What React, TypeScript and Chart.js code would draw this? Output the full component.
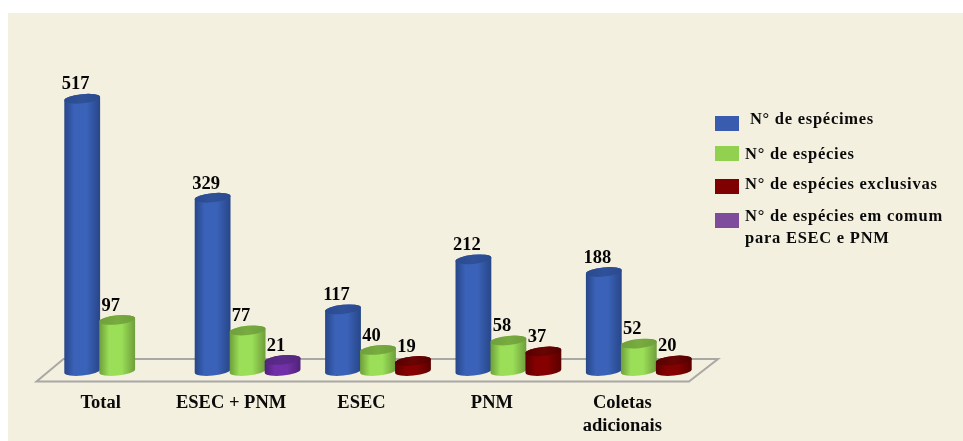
import React, { useEffect, useRef } from "react";
import { Chart, BarController, BarElement, CategoryScale, LinearScale } from "chart.js";

const categories = ["Total", "ESEC + PNM", "ESEC", "PNM", ["Coletas", "adicionais"]];
const especimes = [517, 329, 117, 212, 188];
const especies = [97, 77, 40, 58, 52];
const exclusivas = [null, null, 19, 37, 20];
const emComum = [null, 21, null, null, null];

const legendRows = [
  { color: "#3A5CAF", lines: [" N° de espécimes"], boxY: 116, textX: 745, textY: 120 },
  { color: "#92D050", lines: ["N° de espécies"], boxY: 146, textX: 745, textY: 155 },
  { color: "#7F0000", lines: ["N° de espécies exclusivas"], boxY: 179, textX: 745, textY: 185 },
  { color: "#7F4C9C", lines: ["N° de espécies em comum", "para ESEC e PNM"], boxY: 213, textX: 745, textY: 217 },
];

const SERIF = '"Liberation Serif", "Times New Roman", serif';
const PAGE_BG = "#F4F0E0";
const TILT = -0.1;

type Shade = { edge: string; mid: string; top: string; topMid: string };
const shades: Record<string, Shade> = {
  blue: { edge: "#284688", mid: "#3A62B8", top: "#2A4A8E", topMid: "#2F5199" },
  green: { edge: "#6E9E3A", mid: "#9BDF58", top: "#6F9F3B", topMid: "#78AB40" },
  red: { edge: "#5A0000", mid: "#850000", top: "#560000", topMid: "#6A0404" },
  purple: { edge: "#4E2278", mid: "#7230A8", top: "#53277E", topMid: "#5C2B8A" },
};

// Bar element painted as an upright cylinder on the scale-derived rectangle.
class CylinderBar extends BarElement {
  static id = "cylinderBar";
  static defaults = { ...BarElement.defaults, shade: "blue" };

  draw(ctx: CanvasRenderingContext2D) {
    const { x, y, base, width } = this.getProps(["x", "y", "base", "width"], false) as any;
    const tone: Shade = shades[(this.options as any).shade];
    if (!tone || y == null || Number.isNaN(y)) return;
    const rx = width / 2 + 0.5;
    const ry = 4.6;
    const left = x - rx;
    const right = x + rx;

    ctx.save();
    const body = ctx.createLinearGradient(left, 0, right, 0);
    body.addColorStop(0, tone.edge);
    body.addColorStop(0.28, tone.mid);
    body.addColorStop(0.62, tone.mid);
    body.addColorStop(1, tone.edge);
    ctx.beginPath();
    ctx.ellipse(x, base, rx, ry, TILT, Math.PI, 0, true);
    ctx.ellipse(x, y, rx, ry, TILT, 0, Math.PI, true);
    ctx.closePath();
    ctx.fillStyle = body;
    ctx.fill();

    const cap = ctx.createLinearGradient(left, 0, right, 0);
    cap.addColorStop(0, tone.top);
    cap.addColorStop(0.5, tone.topMid);
    cap.addColorStop(1, tone.top);
    ctx.beginPath();
    ctx.ellipse(x, y, rx, ry, TILT, 0, Math.PI * 2);
    ctx.fillStyle = cap;
    ctx.fill();
    ctx.restore();
  }
}

class CylinderController extends BarController {
  static id = "cylinder";
  static defaults = { ...BarController.defaults, dataElementType: "cylinderBar" };
}

Chart.register(CylinderController, CylinderBar, CategoryScale, LinearScale);

// Page backdrop and the tilted floor the cylinders stand on.
const floorPlugin = {
  id: "floor",
  beforeDraw(chart: Chart) {
    const { ctx, width, height } = chart;
    ctx.save();
    ctx.fillStyle = "#FFFFFF";
    ctx.fillRect(0, 0, width, height);
    ctx.fillStyle = PAGE_BG;
    ctx.fillRect(8, 13, width - 8, height - 13);
    ctx.restore();
  },
  beforeDatasetsDraw(chart: Chart) {
    const { ctx, chartArea, scales } = chart;
    const zero = scales.y.getPixelForValue(0);
    const front = zero + 10.5;
    const back = zero - 12;
    ctx.save();
    ctx.strokeStyle = "#A8A8A4";
    ctx.lineWidth = 2;
    ctx.beginPath();
    ctx.moveTo(chartArea.left + 11.5, back);
    ctx.lineTo(chartArea.left - 15.5, front);
    ctx.lineTo(chartArea.right - 15, front);
    ctx.lineTo(chartArea.right + 14, back);
    ctx.closePath();
    ctx.stroke();
    ctx.restore();
  },
};

// Series are painted first to last so each cylinder sits in front of its left neighbour,
// then the value labels go on top, set slightly left of the bar's centre.
const cylinderOrderPlugin = {
  id: "cylinderOrder",
  beforeDatasetDraw() {
    return false;
  },
  afterDatasetsDraw(chart: Chart) {
    const { ctx } = chart;
    chart.getSortedVisibleDatasetMetas().forEach((meta) => meta.controller.draw());
    ctx.save();
    ctx.font = `bold 18.5px ${SERIF}`;
    ctx.fillStyle = "#050505";
    ctx.textAlign = "center";
    ctx.textBaseline = "middle";
    chart.data.datasets.forEach((ds, i) => {
      chart.getDatasetMeta(i).data.forEach((bar: any, j) => {
        const v = ds.data[j];
        if (v == null) return;
        ctx.fillText(String(v), bar.x - 6.5, bar.y - 14);
      });
    });
    ctx.restore();
  },
};

// Key at the right, with hand-set row spacing.
const keyPlugin = {
  id: "seriesKey",
  afterDraw(chart: Chart) {
    const { ctx } = chart;
    ctx.save();
    ctx.font = `bold 16.5px ${SERIF}`;
    ctx.textBaseline = "middle";
    ctx.textAlign = "left";
    (ctx as any).letterSpacing = "0.75px";
    legendRows.forEach((row) => {
      ctx.fillStyle = row.color;
      ctx.fillRect(715, row.boxY, 24, 15);
      ctx.fillStyle = "#0A0A0A";
      row.lines.forEach((line, n) => ctx.fillText(line, row.textX, row.textY + n * 22));
    });
    ctx.restore();
  },
};

const series = [
  { label: "N° de espécimes", data: especimes, stack: "a", shade: "blue" },
  { label: "N° de espécies", data: especies, stack: "b", shade: "green" },
  { label: "N° de espécies exclusivas", data: exclusivas, stack: "c", shade: "red" },
  { label: "N° de espécies em comum para ESEC e PNM", data: emComum, stack: "c", shade: "purple" },
];

export default function App() {
  const ref = useRef<HTMLCanvasElement>(null);

  useEffect(() => {
    const chart = new Chart(ref.current!, {
      type: "cylinder" as any,
      data: { labels: categories as any, datasets: series as any },
      plugins: [floorPlugin, cylinderOrderPlugin, keyPlugin],
      options: {
        animation: false,
        responsive: false,
        events: [],
        categoryPercentage: 0.805,
        barPercentage: 1,
        layout: { padding: { left: 52, right: 259, top: 55, bottom: 0 } },
        plugins: { legend: { display: false }, tooltip: { enabled: false } },
        scales: {
          x: {
            stacked: true,
            border: { display: false },
            grid: { display: false, drawTicks: false },
            afterFit(scale: any) {
              scale.height = 70;
            },
            ticks: {
              color: "#0A0A0A",
              font: { family: SERIF, weight: "bold", size: 18.5, lineHeight: 1.25 },
              labelOffset: -16.5,
              padding: 21,
              maxRotation: 0,
              autoSkip: false,
            },
          },
          y: { stacked: true, display: false, min: 0, max: 600 },
        },
      } as any,
    });
    return () => chart.destroy();
  }, []);

  return (
    <div style={{ position: "fixed", left: 0, top: 0, width: 963, height: 441 }}>
      <canvas ref={ref} width={963} height={441} style={{ display: "block" }} />
    </div>
  );
}
